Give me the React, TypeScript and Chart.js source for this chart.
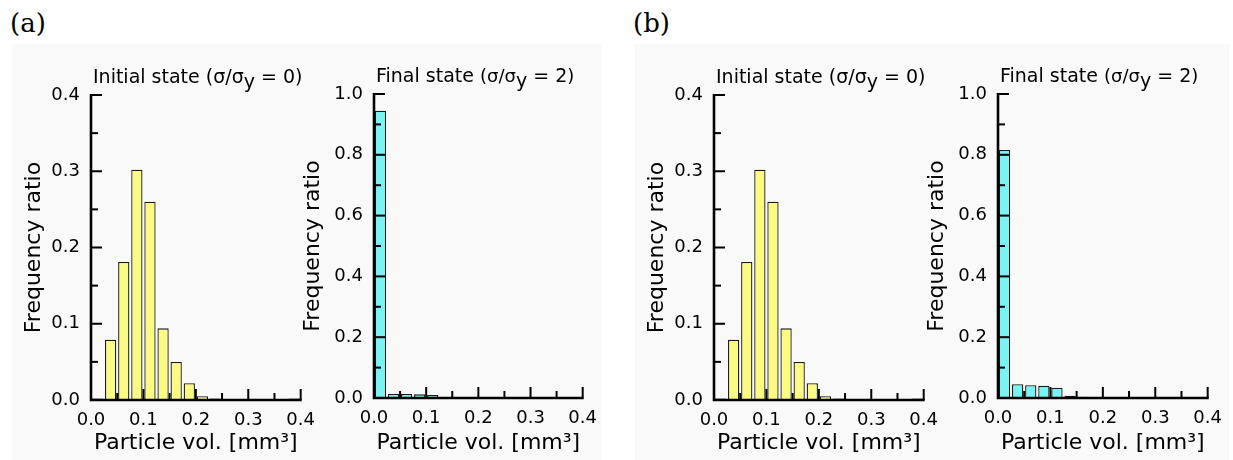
import React, { useEffect, useRef } from "react";
import { Chart, registerables } from "chart.js";

Chart.register(...registerables);

// ---------- data ----------
const binCenters = [
  0.0125, 0.0375, 0.0625, 0.0875, 0.1125, 0.1375, 0.1625, 0.1875,
  0.2125, 0.2375, 0.2625, 0.2875, 0.3125, 0.3375, 0.3625, 0.3875,
];
const initialA = [0.002, 0.079, 0.181, 0.302, 0.26, 0.094, 0.05, 0.022, 0.005, 0.002, 0, 0, 0, 0, 0, 0.002];
const finalA = [0.945, 0.013, 0.013, 0.012, 0.01, 0.002, 0, 0, 0, 0, 0, 0, 0, 0, 0, 0];
const initialB = [0.002, 0.079, 0.181, 0.302, 0.26, 0.094, 0.05, 0.022, 0.005, 0.002, 0, 0, 0, 0, 0, 0.002];
const finalB = [0.816, 0.045, 0.042, 0.04, 0.034, 0.007, 0.004, 0.001, 0, 0, 0, 0, 0, 0, 0, 0];

const xMajorTicks = [0, 0.1, 0.2, 0.3, 0.4];
const xMinorTicks = [0.05, 0.15, 0.25, 0.35];
const yMajorInitial = [0, 0.1, 0.2, 0.3, 0.4];
const yMinorInitial = [0.05, 0.15, 0.25, 0.35];
const yMajorFinal = [0, 0.2, 0.4, 0.6, 0.8, 1.0];
const yMinorFinal = [0.1, 0.3, 0.5, 0.7, 0.9];

const xTitle = "Particle vol. [mm\u00B3]";
const yTitle = "Frequency ratio";

const titleInitial = [
  { text: "Initial state (σ/σ", size: 19, dy: 0 },
  { text: "y", size: 19, dy: 5 },
  { text: " = 0)", size: 19, dy: 0 },
];
const titleFinal = [
  { text: "Final state ", size: 19, dy: 0 },
  { text: "(σ/σ", size: 18, dy: 0 },
  { text: "y", size: 19, dy: 5 },
  { text: " = 2", size: 19, dy: 0 },
  { text: ")", size: 18, dy: 0 },
];

const YELLOW = "#fbfb84";
const CYAN = "#78f4f4";
const SANS = "'DejaVu Sans', 'Liberation Sans', sans-serif";

// ---------- layout (page coords of plot areas) ----------
type Panel = {
  values: number[];
  color: string;
  yMax: number;
  yMajor: number[];
  yMinor: number[];
  title: { text: string; size: number; dy: number }[];
  L: number; R: number; T: number; B: number; titleX: number;
};

const panels: Panel[] = [
  { values: initialA, color: YELLOW, yMax: 0.4, yMajor: yMajorInitial, yMinor: yMinorInitial, title: titleInitial, L: 91, R: 303, T: 95, B: 400, titleX: 34 },
  { values: finalA, color: CYAN, yMax: 1.0, yMajor: yMajorFinal, yMinor: yMinorFinal, title: titleFinal, L: 374, R: 585, T: 94, B: 398, titleX: 313 },
  { values: initialB, color: YELLOW, yMax: 0.4, yMajor: yMajorInitial, yMinor: yMinorInitial, title: titleInitial, L: 714, R: 926, T: 95, B: 400, titleX: 657 },
  { values: finalB, color: CYAN, yMax: 1.0, yMajor: yMajorFinal, yMinor: yMinorFinal, title: titleFinal, L: 998, R: 1210, T: 94, B: 398, titleX: 937 },
];

const framePlugin = {
  id: "frame",
  afterDatasetsDraw(chart: any, _args: any, opts: any) {
    const { ctx, chartArea } = chart;
    const { left, right, top, bottom } = chartArea;
    const x = chart.scales.x;
    const y = chart.scales.y;
    ctx.save();
    ctx.strokeStyle = "#000";
    ctx.lineWidth = 2;
    const tickX = (v: number, len: number) => {
      const px = x.getPixelForValue(v);
      ctx.beginPath();
      ctx.moveTo(px, bottom);
      ctx.lineTo(px, bottom - len);
      ctx.stroke();
    };
    const tickY = (v: number, len: number) => {
      const py = y.getPixelForValue(v);
      ctx.beginPath();
      ctx.moveTo(left, py);
      ctx.lineTo(left + len, py);
      ctx.stroke();
    };
    (opts.xMajor || []).forEach((v: number) => tickX(v, 11));
    (opts.xMinor || []).forEach((v: number) => tickX(v, 7));
    (opts.yMajor || []).forEach((v: number) => tickY(v, 11));
    (opts.yMinor || []).forEach((v: number) => tickY(v, 7));
    ctx.lineWidth = 2.6;
    ctx.lineJoin = "miter";
    ctx.beginPath();
    ctx.moveTo(left, top - 1);
    ctx.lineTo(left, bottom);
    ctx.lineTo(right + 1, bottom);
    ctx.stroke();
    ctx.restore();
  },
};

const titlePlugin = {
  id: "panelTitle",
  afterDraw(chart: any, _args: any, opts: any) {
    const { ctx, chartArea } = chart;
    const segs = opts.segments || [];
    let xPos = chartArea.left + 2;
    const base = chartArea.top - 12;
    ctx.save();
    ctx.fillStyle = "#000";
    ctx.textBaseline = "alphabetic";
    ctx.textAlign = "left";
    segs.forEach((s: any) => {
      ctx.font = `${s.size}px ${SANS}`;
      ctx.fillText(s.text, xPos, base + s.dy);
      xPos += ctx.measureText(s.text).width;
    });
    ctx.restore();
  },
};

function PanelChart({ p }: { p: Panel }) {
  const ref = useRef<HTMLCanvasElement | null>(null);
  const cx = Math.floor(p.titleX - 16);
  const titlePad = p.titleX - cx - 13.2;
  const wy = p.L - cx;
  const cy = 50;
  const ch = 410;
  const pt = p.T - cy;
  const hx = cy + ch - p.B;
  const pr = 22;
  const cw = p.R + pr - cx;

  useEffect(() => {
    if (!ref.current) return;
    const chart = new Chart(ref.current, {
      type: "bar",
      data: {
        datasets: [
          {
            data: binCenters.map((c, i) => ({ x: c, y: p.values[i] })),
            backgroundColor: p.color,
            borderColor: "#1a1a1a",
            borderWidth: 1.3,
            barPercentage: 0.86,
            categoryPercentage: 1,
          } as any,
        ],
      },
      options: {
        animation: false,
        responsive: false,
        maintainAspectRatio: false,
        events: [],
        layout: { padding: { left: 0, right: pr, top: pt, bottom: 0 } },
        plugins: {
          legend: { display: false },
          tooltip: { enabled: false },
          frame: { xMajor: xMajorTicks, xMinor: xMinorTicks, yMajor: p.yMajor, yMinor: p.yMinor },
          panelTitle: { segments: p.title },
        } as any,
        scales: {
          x: {
            type: "linear",
            min: 0,
            max: 0.4,
            offset: false,
            grid: { display: false, drawTicks: false, offset: false },
            border: { display: false },
            afterBuildTicks: (s: any) => {
              s.ticks = xMajorTicks.map((v) => ({ value: v }));
            },
            afterFit: (s: any) => {
              s.height = hx;
            },
            ticks: {
              autoSkip: false,
              maxRotation: 0,
              padding: 10,
              color: "#000",
              font: { size: 18, family: SANS },
              callback: (v: any) => Number(v).toFixed(1),
            },
            title: {
              display: true,
              text: xTitle,
              color: "#000",
              font: { size: 22, family: SANS },
              padding: { top: 0, bottom: 4 },
            },
          },
          y: {
            type: "linear",
            min: 0,
            max: p.yMax,
            grid: { display: false, drawTicks: false },
            border: { display: false },
            afterBuildTicks: (s: any) => {
              s.ticks = p.yMajor.map((v) => ({ value: v }));
            },
            afterFit: (s: any) => {
              s.width = wy;
            },
            ticks: {
              autoSkip: false,
              padding: 11,
              color: "#000",
              font: { size: 18, family: SANS },
              callback: (v: any) => Number(v).toFixed(1),
            },
            title: {
              display: true,
              text: yTitle,
              color: "#000",
              font: { size: 22, family: SANS },
              padding: { top: titlePad, bottom: 0 },
            },
          },
        },
      } as any,
      plugins: [framePlugin, titlePlugin],
    });
    return () => chart.destroy();
  }, []);

  return (
    <canvas
      ref={ref}
      width={cw}
      height={ch}
      style={{ position: "absolute", left: cx, top: cy, width: cw, height: ch }}
    />
  );
}

export default function App() {
  const labelStyle: React.CSSProperties = {
    position: "absolute",
    top: 5,
    fontFamily: "'DejaVu Serif', 'Liberation Serif', serif",
    fontSize: 26,
    lineHeight: "36px",
    color: "#000",
  };
  return (
    <div
      style={{
        position: "absolute",
        left: 0,
        top: 0,
        width: 1233,
        height: 460,
        background: "#ffffff",
        overflow: "hidden",
      }}
    >
      <div style={{ position: "absolute", left: 12, top: 44, width: 590, height: 416, background: "#f9f9f9" }} />
      <div style={{ position: "absolute", left: 635, top: 44, width: 594, height: 416, background: "#f9f9f9" }} />
      <div style={{ ...labelStyle, left: 10 }}>(a)</div>
      <div style={{ ...labelStyle, left: 633 }}>(b)</div>
      {panels.map((p, i) => (
        <PanelChart key={i} p={p} />
      ))}
    </div>
  );
}
